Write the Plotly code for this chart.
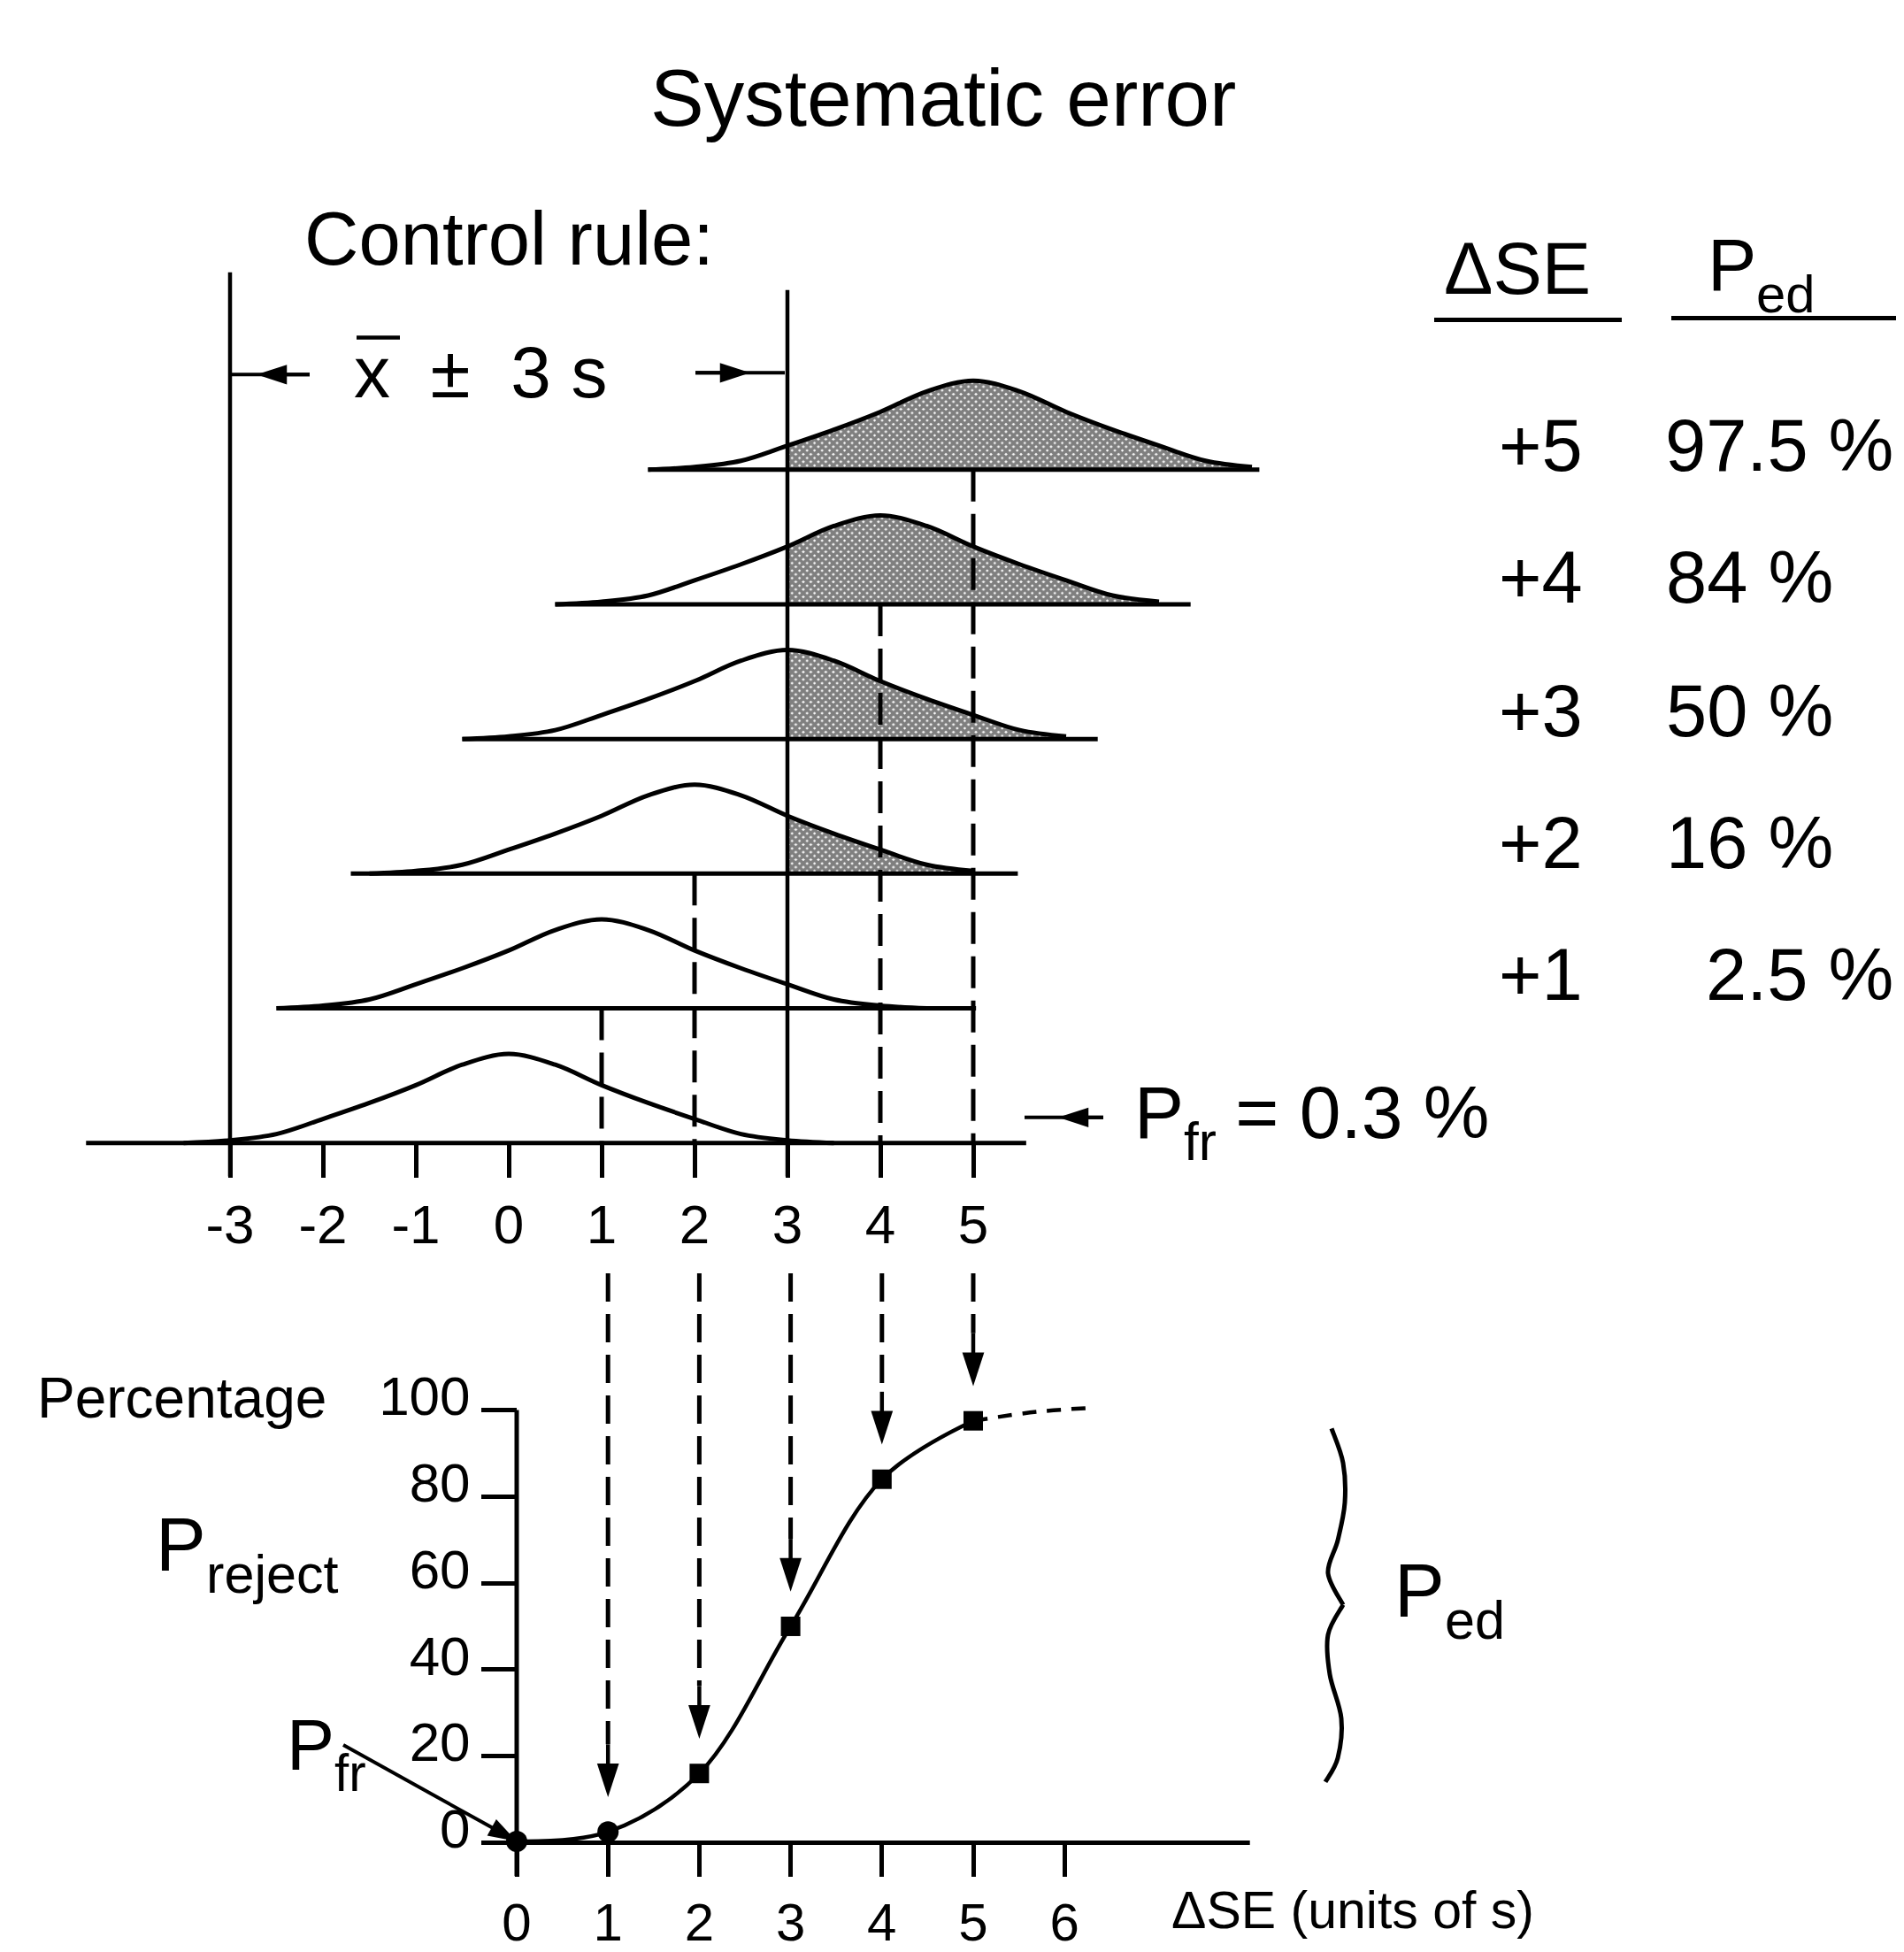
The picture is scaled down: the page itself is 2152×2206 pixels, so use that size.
import plotly.graph_objects as go

W, H = 2152, 2206
FONT = "Liberation Sans, Arial, Helvetica, sans-serif"

# ---------------- data ----------------
delta_se = [0, 1, 2, 3, 4, 5]                 # systematic shift (units of s)
p_reject = [0.3, 2.5, 16, 50, 84, 97.5]       # probability of rejection, %
ext_se = [5, 5.7, 6.3]                        # dashed continuation of the power curve
ext_p = [97.5, 99.6, 100.5]
table_se = [5, 4, 3, 2, 1]
table_ped = [97.5, 84, 50, 16, 2.5]
p_fr = 0.3
shifts = [0, 1, 2, 3, 4, 5]                   # means of the shifted distributions
control_limits = [-3, 3]
profile_offsets = [-3.5, -3, -2.5, -2, -1.5, -1, -0.5, 0, 0.5, 1, 1.5, 2, 2.5, 3, 3.5]
profile_heights = [0, 0.03, 0.10, 0.27, 0.45, 0.65, 0.88, 1.0, 0.88, 0.65, 0.45, 0.27, 0.10, 0.03, 0]
top_ticks = [-3, -2, -1, 0, 1, 2, 3, 4, 5]
top_tick_labels = ['-3', '-2', '-1', '0', '1', '2', '3', '4', '5']
bottom_ticks = [0, 1, 2, 3, 4, 5, 6]
bottom_tick_labels = ['0', '1', '2', '3', '4', '5', '6']
pct_ticks = [0, 20, 40, 60, 80, 100]
pct_tick_labels = ['0', '20', '40', '60', '80', '100']

# ---------------- layout calibration (pixels of the page) ----------------
TOP_X0, TOP_UNIT = 575.0, 105.0
TOP_Y0, TOP_YUNIT = 1297.0, 101.0
ROW = 152.8 / TOP_YUNIT
BOT_X0, BOT_UNIT = 584.0, 103.2
BOT_Y0, BOT_YUNIT = 2091.0, 4.91

def tx(px): return (px - TOP_X0) / TOP_UNIT
def ty(py): return (TOP_Y0 - py) / TOP_YUNIT
def bx(px): return (px - BOT_X0) / BOT_UNIT
def by(py): return (BOT_Y0 - py) / BOT_YUNIT
def PX(px): return px / W
def PY(py): return 1 - py / H

base_left = [-4.55, -2.5, -1.7, -0.5, 0.5, 1.5]
base_right = [5.57, 5.03, 5.48, 6.34, 7.34, 8.08]

LW = 5
fig = go.Figure()

def line(x, y, axes=('x', 'y'), width=LW, dash=None, shape='linear', arrow=False, asize=30):
    kw = dict(mode='lines')
    if arrow:
        kw = dict(mode='lines+markers',
                  marker=dict(symbol='arrow', size=[0] * (len(x) - 1) + [asize], opacity=1,
                              angleref='previous', color='black', line=dict(width=0)))
    fig.add_trace(go.Scatter(x=x, y=y, xaxis=axes[0], yaxis=axes[1],
                             line=dict(color='black', width=width, dash=dash, shape=shape),
                             showlegend=False, hoverinfo='skip', **kw))

TOP = ('x', 'y')
BOT = ('x2', 'y2')

def profile(k, m):
    pts = [(m + o, k * ROW + h) for o, h in zip(profile_offsets, profile_heights)]
    return [p for p in pts if base_left[k] - 1e-9 <= p[0] <= base_right[k] + 1e-9]

# ---- shaded tails beyond the upper control limit ----
for k, m in enumerate(shifts):
    if k < 2:
        continue
    sub = [p for p in profile(k, m) if p[0] >= control_limits[1] - 1e-9]
    fig.add_trace(go.Scatter(x=[control_limits[1], sub[-1][0]], y=[k * ROW, k * ROW], mode='lines',
                             xaxis='x', yaxis='y', line=dict(width=0, color='rgba(0,0,0,0)'),
                             showlegend=False, hoverinfo='skip'))
    fig.add_trace(go.Scatter(x=[p[0] for p in sub], y=[p[1] for p in sub], mode='lines',
                             xaxis='x', yaxis='y', fill='tonexty',
                             fillcolor='rgba(0,0,0,0)',
                             fillpattern=dict(shape='x', size=6, solidity=0.85,
                                              fgcolor='black', bgcolor='white'),
                             line=dict(width=0, shape='spline', color='rgba(0,0,0,0)'),
                             showlegend=False, hoverinfo='skip'))

# ---- distributions and their baselines ----
for k, m in enumerate(shifts):
    pts = profile(k, m)
    line([p[0] for p in pts], [p[1] for p in pts], TOP, shape='spline')
    line([base_left[k], base_right[k]], [k * ROW, k * ROW], TOP)

# ---- control limits ----
line([control_limits[0]] * 2, [ty(1335), ty(309)], TOP, width=4.5)
line([control_limits[1]] * 2, [ty(1335), ty(329)], TOP, width=4.5)

# ---- control-rule width arrows and P_fr pointer (upper panel) ----
line([tx(260), tx(350)], [ty(425)] * 2, TOP, width=4)
line([tx(350), tx(290)], [ty(425)] * 2, TOP, width=4, arrow=True, asize=36)
line([tx(786), tx(887)], [ty(423)] * 2, TOP, width=4)
line([tx(786), tx(848)], [ty(423)] * 2, TOP, width=4, arrow=True, asize=36)
line([tx(1158), tx(1247)], [ty(1268)] * 2, TOP, width=4)
line([tx(1247), tx(1196)], [ty(1268)] * 2, TOP, width=4, arrow=True, asize=36)

# ---- dashed verticals in the upper panel ----
for k, m in enumerate(shifts):
    if m in (0, 3):
        continue
    line([m, m], [k * ROW, 0], TOP, dash='36px,14px')

# ---- lower panel: axes lines ----
line([0, 0], [by(2129), 100], BOT)
line([0, 8.03], [0, 0], BOT)

# ---- dashed drop lines with arrows ----
GAP = 8.0
for m, p in zip(delta_se[1:], p_reject[1:]):
    tip = p + GAP
    line([m, m], [by(1445), tip + 60 / BOT_YUNIT], BOT, dash='32px,14px')
    line([m, m], [tip + 60 / BOT_YUNIT, tip], BOT, width=4.5, arrow=True, asize=40)

# P_fr pointer to the origin
line([bx(388), 0], [by(1980), p_fr], BOT, width=4, arrow=True, asize=34)

# ---- power curve ----
line(delta_se, p_reject, BOT, width=4.5, shape='spline')
line(ext_se, ext_p, BOT, width=4.5, dash='16px,12px', shape='spline')
fig.add_trace(go.Scatter(x=delta_se, y=p_reject, mode='markers', xaxis='x2', yaxis='y2',
                         marker=dict(symbol=['circle', 'circle', 'square', 'square', 'square', 'square'],
                                     size=[24, 24, 22, 22, 22, 22], color='black', opacity=1,
                                     line=dict(width=0)),
                         showlegend=False, hoverinfo='skip'))

# ---------------- texts ----------------
ASC = 0.905
ADV = {'P': 0.667, 'f': 0.278, 'r': 0.333, 'e': 0.556, 'd': 0.556, 'j': 0.222, 'c': 0.5,
       't': 0.278, ' ': 0.278}
ann = []

def label(text, x_px, base_px, size, anchor='left'):
    ann.append(dict(text=text, x=PX(x_px), y=PY(base_px - ASC * size - 1), xref='paper',
                    yref='paper', xanchor=anchor, yanchor='top', showarrow=False,
                    font=dict(family=FONT, size=size, color='black')))

def sublabel(main, sub, rest, x_px, base_px, size):
    label(main, x_px, base_px, size)
    xs = x_px + sum(ADV[c] for c in main) * size
    fs = 0.72 * size
    label(sub, xs, base_px + 0.3 * size, fs)
    if rest:
        label(rest, xs + sum(ADV[c] for c in sub) * fs - 2, base_px, size)

label('Systematic error', 1066, 142, 91, 'center')
label('Control rule:', 342, 299, 85)
label('x  \u00b1  3 s', 398, 450, 82)
sublabel('P', 'fr', ' = 0.3 %', 1280, 1290, 84)
label('\u0394SE', 1630, 332, 83)
sublabel('P', 'ed', '', 1928, 328, 83)
row_base = [533, 683, 834, 984, 1133]
for s, p, b in zip(table_se, table_ped, row_base):
    label(f'+{s}', 1791, b, 83, 'right')
    t = f'{p:g} %'
    if '.' in t:
        label(t, 2142, b, 83, 'right')
    else:
        label(t, 1881, b, 83, 'left')
label('Percentage', 40, 1607, 64)
sublabel('P', 'reject', '', 174, 1781, 85)
sublabel('P', 'fr', '', 322, 2007, 81)
sublabel('P', 'ed', '', 1574, 1833, 85)
label('\u0394SE (units of s)', 1322, 2187, 59)

shapes = []
def seg(x0, y0, x1, y1, width=4):
    shapes.append(dict(type='line', xref='paper', yref='paper', x0=PX(x0), y0=PY(y0),
                       x1=PX(x1), y1=PY(y1), line=dict(color='black', width=width)))

seg(403, 383, 452, 383, 4.5)          # bar over x
seg(1621, 363, 1833, 363, 5)          # table underlines
seg(1889, 361, 2143, 361, 5)

# curly brace: two smooth halves joined at the cusp
def smooth_path(pts):
    out = f'M {PX(pts[0][0]):.5f},{PY(pts[0][1]):.5f}'
    for i in range(len(pts) - 1):
        p0 = pts[i - 1] if i > 0 else pts[i]
        p1, p2 = pts[i], pts[i + 1]
        p3 = pts[i + 2] if i + 2 < len(pts) else pts[i + 1]
        c1 = (p1[0] + (p2[0] - p0[0]) / 6, p1[1] + (p2[1] - p0[1]) / 6)
        c2 = (p2[0] - (p3[0] - p1[0]) / 6, p2[1] - (p3[1] - p1[1]) / 6)
        out += (f' C {PX(c1[0]):.5f},{PY(c1[1]):.5f} {PX(c2[0]):.5f},{PY(c2[1]):.5f}'
                f' {PX(p2[0]):.5f},{PY(p2[1]):.5f}')
    return out

brace_top = [(1505, 1621), (1518, 1660), (1520, 1705), (1512, 1748), (1501, 1785), (1518, 1821)]
brace_bot = [(1518, 1821), (1501, 1855), (1503, 1900), (1516, 1950), (1512, 1995), (1498, 2022)]
for half in (brace_top, brace_bot):
    shapes.append(dict(type='path', xref='paper', yref='paper', path=smooth_path(half),
                       line=dict(color='black', width=5)))

tick_font = dict(family=FONT, size=62, color='black')
fig.update_layout(
    width=W, height=H, margin=dict(l=0, r=0, t=0, b=0),
    paper_bgcolor='white', plot_bgcolor='white', showlegend=False,
    xaxis=dict(range=[tx(0), tx(W)], anchor='free', position=PY(TOP_Y0), showgrid=False,
               zeroline=False, showline=False, ticks='outside', ticklen=38, tickwidth=4.5,
               tickcolor='black', tickmode='array', tickvals=top_ticks, ticktext=top_tick_labels,
               tickfont=tick_font),
    yaxis=dict(range=[ty(H), ty(0)], visible=False),
    xaxis2=dict(range=[bx(0), bx(W)], overlaying='x', anchor='free', position=PY(BOT_Y0),
                showgrid=False, zeroline=False, showline=False, ticks='outside', ticklen=38,
                tickwidth=4.5, tickcolor='black', tickmode='array', tickvals=bottom_ticks,
                ticktext=bottom_tick_labels, tickfont=dict(family=FONT, size=60, color='black')),
    yaxis2=dict(range=[by(H), by(0)], overlaying='y', anchor='free', position=PX(BOT_X0),
                side='left', showgrid=False, zeroline=False, showline=False, ticks='outside',
                ticklen=40, tickwidth=4.5, tickcolor='black', tickmode='array', tickvals=pct_ticks,
                ticktext=pct_tick_labels, tickfont=tick_font, ticklabelshift=-16),
    annotations=ann, shapes=shapes,
)

fig.write_html("out.html", config={'displayModeBar': False},
               post_script="document.body.style.margin='0';document.body.style.overflow='hidden';")
